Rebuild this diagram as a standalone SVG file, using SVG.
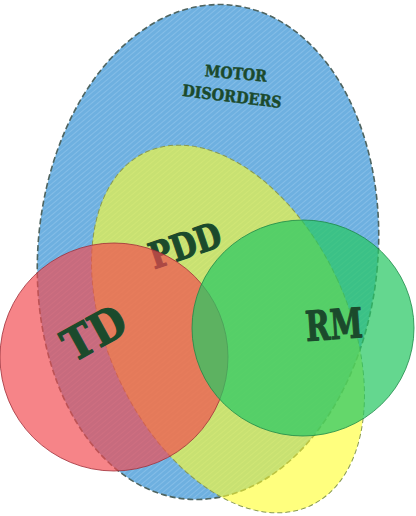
<svg xmlns="http://www.w3.org/2000/svg" width="416" height="516" viewBox="0 0 416 516">
  <defs>
    <pattern id="stripes" width="4" height="4" patternUnits="userSpaceOnUse" patternTransform="rotate(45)">
      <rect width="4" height="4" fill="#6EB0E0"/>
      <line x1="0" y1="0" x2="0" y2="4" stroke="#8EC3EA" stroke-width="1.4"/>
    </pattern>
    <style>
      .lbl { font-family: "DejaVu Serif", "Liberation Serif", serif; font-weight: bold; fill: #1B4A2C; stroke: #1B4A2C; stroke-width: 1.2; stroke-linejoin: round; }
      .sm { stroke-width: 0.5; }
      .motor { fill: url(#stripes); stroke: #4E6460; stroke-width: 1.6; stroke-dasharray: 6 3; }
      .pdd { fill: #FFFF2E; fill-opacity: 0.62; stroke: #8A9A50; stroke-width: 1; stroke-dasharray: 5 3; }
      .td { fill: #F24A50; fill-opacity: 0.68; stroke: #A0303A; stroke-width: 1; stroke-opacity: 0.8; }
      .rm { fill: #28C864; fill-opacity: 0.72; stroke: #1E8A48; stroke-width: 1; stroke-opacity: 0.8; }
    </style>
  </defs>
  <g id="connectors"/>
  <g id="motor-disorders">
    <ellipse class="motor" cx="208" cy="252" rx="170" ry="248" transform="rotate(5 208 252)"/>
    <text class="lbl sm" x="236" y="79" font-size="16" text-anchor="middle" textLength="62" lengthAdjust="spacingAndGlyphs" transform="rotate(5 236 73)">MOTOR</text>
    <text class="lbl sm" x="232" y="102" font-size="16" text-anchor="middle" textLength="100" lengthAdjust="spacingAndGlyphs" transform="rotate(7 232 96)">DISORDERS</text>
  </g>
  <g id="pdd">
    <ellipse class="pdd" cx="228" cy="329" rx="120" ry="195" transform="rotate(-25 228 329)"/>
    <text class="lbl" x="185" y="258" font-size="36" text-anchor="middle" textLength="74" lengthAdjust="spacingAndGlyphs" transform="rotate(-19 185 245)">PDD</text>
  </g>
  <g id="td">
    <circle class="td" cx="114" cy="357" r="114"/>
    <text class="lbl" x="94" y="349" font-size="45" text-anchor="middle" textLength="66" lengthAdjust="spacingAndGlyphs" transform="rotate(-29 94 333)">TD</text>
  </g>
  <g id="rm">
    <ellipse class="rm" cx="303" cy="328" rx="111" ry="108"/>
    <text class="lbl" x="334" y="339" font-size="41" text-anchor="middle" textLength="57" lengthAdjust="spacingAndGlyphs" transform="rotate(-4 334 324)">RM</text>
  </g>
</svg>
